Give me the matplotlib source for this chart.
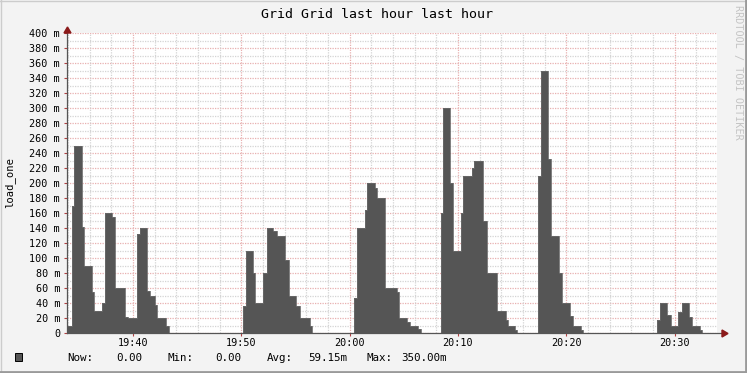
import matplotlib
matplotlib.use("Agg")
import matplotlib.pyplot as plt
from matplotlib.lines import Line2D
from matplotlib.patches import Polygon, Rectangle
import numpy as np

# load_one samples: change points (minutes past 19:00) and value in milli-units
t_min = [33.91, 34.34, 34.58, 35.32, 35.50, 36.24, 36.43, 37.11, 37.42, 38.03,
         38.34, 39.26, 39.57, 40.34, 40.65, 41.32, 41.57, 42.03, 42.24, 43.05,
         43.32,
         50.13, 50.43, 51.05, 51.26, 52.03, 52.34, 52.95, 53.32, 54.03, 54.43,
         55.05, 55.42, 56.34, 56.50,
         60.40, 60.65, 61.42, 61.57, 62.34, 62.55, 63.26, 64.34, 64.55, 65.26,
         65.57, 66.34, 66.56,
         68.43, 68.64, 69.26, 69.57, 70.28, 70.49, 71.27, 71.48, 72.34, 72.65,
         73.57, 74.43, 74.62, 75.26, 75.45,
         77.36, 77.66, 78.28, 78.59, 79.35, 79.58, 80.34, 80.59, 81.36, 81.51,
         88.34, 88.65, 89.32, 89.63, 90.33, 90.64, 91.34, 91.57, 92.34, 92.49,
         93.91]
load_m = [10, 170, 250, 142, 90, 55, 30, 40, 160, 155,
          60, 22, 20, 132, 140, 56, 50, 38, 20, 10,
          0,
          36, 110, 80, 40, 80, 140, 136, 130, 98, 50,
          36, 20, 10, 0,
          47, 140, 164, 200, 193, 180, 60, 55, 20, 15,
          10, 5, 0,
          160, 300, 200, 110, 160, 210, 220, 230, 150, 80,
          30, 18, 10, 4, 0,
          210, 350, 232, 130, 80, 40, 23, 10, 4, 0,
          18, 40, 24, 10, 28, 40, 22, 10, 4, 0,
          0]

x_start, x_end = 33.91, 93.91
major_x = [40, 50, 60, 70, 80, 90]
major_x_labels = ["19:40", "19:50", "20:00", "20:10", "20:20", "20:30"]
y_ticks = list(range(0, 401, 20))
stats_labels = ["Now:", "0.00", "Min:", "0.00", "Avg:", "59.15m", "Max:", "350.00m"]

W, H = 747, 373
fig = plt.figure(figsize=(W / 100, H / 100), dpi=100, facecolor="#f3f3f3")
ax = fig.add_axes([67 / W, (H - 333) / H, 650 / W, 300 / H])
ax.set_facecolor("white")

mono = "DejaVu Sans Mono"
dot = (0, (1, 1))

# grid
for v in range(0, 401, 10):
    if v % 20 == 0:
        ax.axhline(v, color="#e8b0b0", lw=0.9, ls=dot, zorder=1)
    else:
        ax.axhline(v, color="#d4d4d4", lw=0.9, ls=dot, zorder=1)
for m in np.arange(34, 94, 2):
    if m in major_x:
        ax.axvline(m, color="#e8b0b0", lw=0.9, ls=dot, zorder=1)
    else:
        ax.axvline(m, color="#d4d4d4", lw=0.9, ls=dot, zorder=1)

ax.fill_between(t_min, load_m, step="post", color="#555555", lw=0, zorder=2)
ax.step(t_min, load_m, where="post", color="#6a6a6a", lw=0.6, zorder=2)

ax.set_xlim(x_start, x_end)
ax.set_ylim(0, 400)
for s in ax.spines.values():
    s.set_visible(False)

ax.set_yticks(y_ticks)
ax.set_yticklabels(["0"] + [f"{v} m" for v in y_ticks[1:]],
                   fontfamily=mono, fontsize=7.3)
ax.set_xticks(major_x)
ax.set_xticklabels(major_x_labels, fontfamily=mono, fontsize=7.3)
ax.tick_params(axis="y", length=2, color="#b04040", pad=3)
ax.tick_params(axis="x", length=2, color="#b04040", pad=1.5)

# axis lines with arrows
ax.add_line(Line2D([x_start, x_end + 0.7], [0, 0], color="#555555", lw=0.9,
                   clip_on=False, zorder=3))
ax.add_line(Line2D([x_start, x_start], [0, 406], color="#555555", lw=0.9,
                   clip_on=False, zorder=3))
fig.patches.append(Polygon([[722 / W, (H - 330) / H], [728 / W, (H - 333.5) / H],
                            [722 / W, (H - 337) / H]], closed=True,
                           transform=fig.transFigure, color="#8b1a1a"))
fig.patches.append(Polygon([[64 / W, (H - 33) / H], [67.5 / W, (H - 27) / H],
                            [71 / W, (H - 33) / H]], closed=True,
                           transform=fig.transFigure, color="#8b1a1a"))

fig.text(377 / W, 1 - 14 / H, "Grid Grid last hour last hour", ha="center",
         va="center", fontfamily=mono, fontsize=9.5, color="black")
fig.text(10 / W, 1 - 182 / H, "load_one", rotation=90, ha="center", va="center",
         fontfamily=mono, fontsize=7.6)
fig.text(738 / W, 1 - 5 / H, "RRDTOOL / TOBI OETIKER", rotation=270, ha="center",
         va="top", fontfamily=mono, fontsize=7.3, color="#c4c4c4")

# legend
fig.patches.append(Rectangle((15 / W, (H - 361) / H), 7 / W, 8 / H,
                             transform=fig.transFigure, facecolor="#555555",
                             edgecolor="black", lw=0.7))
stats_x = [67.6, 116.7, 167.6, 215.7, 266.7, 308.6, 366.7, 401]
for sx, s in zip(stats_x, stats_labels):
    fig.text(sx / W, 1 - 358 / H, s, ha="left", va="center", fontfamily=mono,
             fontsize=7.8)

# outer frame
fig.add_artist(Line2D([0, 1], [1 - 0.5 / H, 1 - 0.5 / H], transform=fig.transFigure,
                      color="#cccccc", lw=1))
fig.add_artist(Line2D([0.5 / W, 0.5 / W], [0, 1], transform=fig.transFigure,
                      color="#cccccc", lw=1))
fig.add_artist(Line2D([0, 1], [1.5 / H, 1.5 / H], transform=fig.transFigure,
                      color="#9a9a9a", lw=2))
fig.add_artist(Line2D([1 - 1.5 / W, 1 - 1.5 / W], [0, 1], transform=fig.transFigure,
                      color="#9a9a9a", lw=2))

fig.savefig("out.png", dpi=100, facecolor=fig.get_facecolor())
